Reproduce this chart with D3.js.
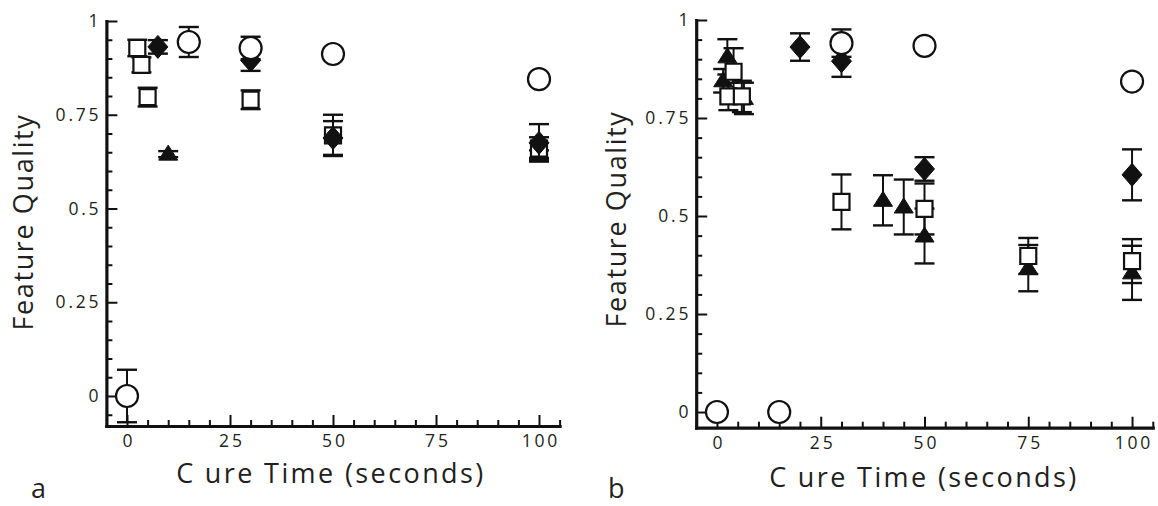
<!DOCTYPE html>
<html>
<head>
<meta charset="utf-8">
<script src="https://cdn.jsdelivr.net/npm/d3@7/dist/d3.min.js"></script>
<style>
  body { margin: 0; background: #fff; }
  svg text { font-family: "Open Sans", "DejaVu Sans", sans-serif; fill: #231f20; }
</style>
</head>
<body>
<svg width="1158" height="506"></svg>
<script>
// tick values / labels
const xTickVals = [0, 25, 50, 75, 100];
const xTickLabels = ["0", "25", "50", "75", "100"];
const yTickVals = [0, 0.25, 0.5, 0.75, 1];
const yTickLabels = ["0", "0.25", "0.5", "0.75", "1"];

// panel a
const a_circle_x = [0, 15, 30, 50, 100];
const a_circle_y = [0, 0.944, 0.928, 0.912, 0.845];
const a_circle_err = [0.07, 0.04, 0.03, 0, 0];
const a_square_x = [2.5, 3.5, 5, 30, 50, 100];
const a_square_y = [0.928, 0.883, 0.797, 0.79, 0.695, 0.66];
const a_square_err = [0.022, 0.02, 0.025, 0.025, 0.055, 0.03];
const a_diamond_x = [7.5, 30, 50, 100];
const a_diamond_y = [0.931, 0.895, 0.688, 0.675];
const a_diamond_err = [0.018, 0.028, 0.045, 0.05];
const a_triangle_x = [10, 100];
const a_triangle_y = [0.645, 0.645];
const a_triangle_err = [0.008, 0.01];

// panel b
const b_circle_x = [0, 15, 30, 50, 100];
const b_circle_y = [0, 0, 0.941, 0.934, 0.843];
const b_circle_err = [0, 0, 0.035, 0, 0];
const b_square_x = [2.75, 4, 6, 30, 50, 75, 100];
const b_square_y = [0.805, 0.868, 0.805, 0.536, 0.518, 0.398, 0.385];
const b_square_err = [0.035, 0.06, 0.04, 0.07, 0.065, 0.046, 0.056];
const b_diamond_x = [20, 30, 50, 100];
const b_diamond_y = [0.931, 0.895, 0.62, 0.605];
const b_diamond_err = [0.035, 0.04, 0.03, 0.065];
const b_triangle_x = [1.5, 2.5, 6.5, 40, 45, 50, 75, 100];
const b_triangle_y = [0.845, 0.906, 0.8, 0.54, 0.523, 0.449, 0.367, 0.355];
const b_triangle_err = [0.03, 0.045, 0.04, 0.064, 0.07, 0.07, 0.059, 0.069];

const svg = d3.select("svg");
const ink = "#111";

const panels = [
    {
        name: "a", yMin: -0.08,
        xRange: [106.4, 559.6], yRange: [426, 21],
        yTitle: {x: 33, y: 222}, xTitle: {x: 331, y: 483}, letter: {x: 31, y: 498},
        series: [
            ["triangle", a_triangle_x, a_triangle_y, a_triangle_err],
            ["square", a_square_x, a_square_y, a_square_err],
            ["diamond", a_diamond_x, a_diamond_y, a_diamond_err],
            ["circle", a_circle_x, a_circle_y, a_circle_err]
        ]
    },
    {
        name: "b", yMin: -0.04,
        xRange: [696.2, 1152.8], yRange: [427.7, 20],
        yTitle: {x: 626, y: 219}, xTitle: {x: 924, y: 487}, letter: {x: 608, y: 498},
        series: [
            ["triangle", b_triangle_x, b_triangle_y, b_triangle_err],
            ["square", b_square_x, b_square_y, b_square_err],
            ["diamond", b_diamond_x, b_diamond_y, b_diamond_err],
            ["circle", b_circle_x, b_circle_y, b_circle_err]
        ]
    }
];

function markerPath(kind) {
    switch (kind) {
        case "square": return "M-8,-8H8V8H-8Z";
        case "diamond": return "M0,-11.5L10,0L0,11.5L-10,0Z";
        case "triangle": return "M0,-9L9.5,6L-9.5,6Z";
        default: return d3.symbol(d3.symbolCircle, Math.PI * 11 * 11)();
    }
}

panels.forEach(function(p) {
    const x = d3.scaleLinear().domain([-5, 105]).range(p.xRange);
    const y = d3.scaleLinear().domain([p.yMin, 1]).range(p.yRange);
    const g = svg.append("g");

    // minor ticks
    const xMinor = d3.range(-5, 106, 5).filter(d => d % 25 !== 0);
    const yMinor = d3.range(-1, 21).map(d => d / 20).filter(d => d >= p.yMin && d % 0.25 !== 0);

    g.append("g")
        .attr("transform", `translate(0,${p.yRange[0]})`)
        .call(d3.axisBottom(x).tickValues(xMinor).tickSize(-6).tickFormat(""))
        .call(s => s.select(".domain").remove());
    g.append("g")
        .attr("transform", `translate(${p.xRange[0]},0)`)
        .call(d3.axisLeft(y).tickValues(yMinor).tickSize(-6).tickFormat(""))
        .call(s => s.select(".domain").remove());

    // major ticks + labels
    const xAxis = g.append("g")
        .attr("transform", `translate(0,${p.yRange[0]})`)
        .call(d3.axisBottom(x).tickValues(xTickVals).tickSize(-11).tickSizeOuter(0)
            .tickPadding(9).tickFormat((d, i) => xTickLabels[i]));
    const yAxis = g.append("g")
        .attr("transform", `translate(${p.xRange[0]},0)`)
        .call(d3.axisLeft(y).tickValues(yTickVals).tickSize(-11).tickSizeOuter(0)
            .tickPadding(5).tickFormat((d, i) => yTickLabels[i]));

    g.selectAll(".tick line").attr("stroke", ink).attr("stroke-width", 2);
    g.selectAll(".domain").attr("stroke", ink).attr("stroke-width", 3.2).attr("stroke-linecap", "square");
    g.selectAll(".tick text")
        .attr("fill", "#231f20")
        .style("font-size", "17.5px")
        .style("letter-spacing", "2.8px");
    xAxis.selectAll(".tick text").attr("dx", "1.4px");

    // error bars + markers
    p.series.forEach(function(s) {
        const kind = s[0];
        const pts = s[1].map((v, i) => ({x: v, y: s[2][i], e: s[3][i]}));
        const sg = g.append("g").attr("class", kind);
        const withErr = pts.filter(d => d.e > 0);
        sg.selectAll("line.bar").data(withErr).enter().append("line")
            .attr("x1", d => x(d.x)).attr("x2", d => x(d.x))
            .attr("y1", d => y(d.y - d.e)).attr("y2", d => y(d.y + d.e))
            .attr("stroke", ink).attr("stroke-width", 2);
        [-1, 1].forEach(function(sign) {
            sg.selectAll("line.cap" + sign).data(withErr).enter().append("line")
                .attr("x1", d => x(d.x) - 10).attr("x2", d => x(d.x) + 10)
                .attr("y1", d => y(d.y + sign * d.e)).attr("y2", d => y(d.y + sign * d.e))
                .attr("stroke", ink).attr("stroke-width", 2.4);
        });
        const hollow = kind === "square" || kind === "circle";
        sg.selectAll("path.mark").data(pts).enter().append("path")
            .attr("d", markerPath(kind))
            .attr("transform", d => `translate(${x(d.x)},${y(d.y)})`)
            .attr("fill", hollow ? "#fff" : ink)
            .attr("stroke", ink)
            .attr("stroke-width", hollow ? 2.2 : 1);
    });

    // titles
    const xt = g.append("text")
        .attr("x", p.xTitle.x).attr("y", p.xTitle.y)
        .attr("text-anchor", "middle")
        .style("font-size", "27px")
        .style("letter-spacing", "2.4px");
    xt.append("tspan").text("C");
    xt.append("tspan").attr("dx", 9).text("ure Time (seconds)");

    g.append("text")
        .attr("transform", `translate(${p.yTitle.x},${p.yTitle.y}) rotate(-90)`)
        .attr("text-anchor", "middle")
        .style("font-size", "27px")
        .style("letter-spacing", "1.6px")
        .text("Feature Quality");

    g.append("text")
        .attr("x", p.letter.x).attr("y", p.letter.y)
        .style("font-size", "27px")
        .text(p.name);
});
</script>
</body>
</html>
